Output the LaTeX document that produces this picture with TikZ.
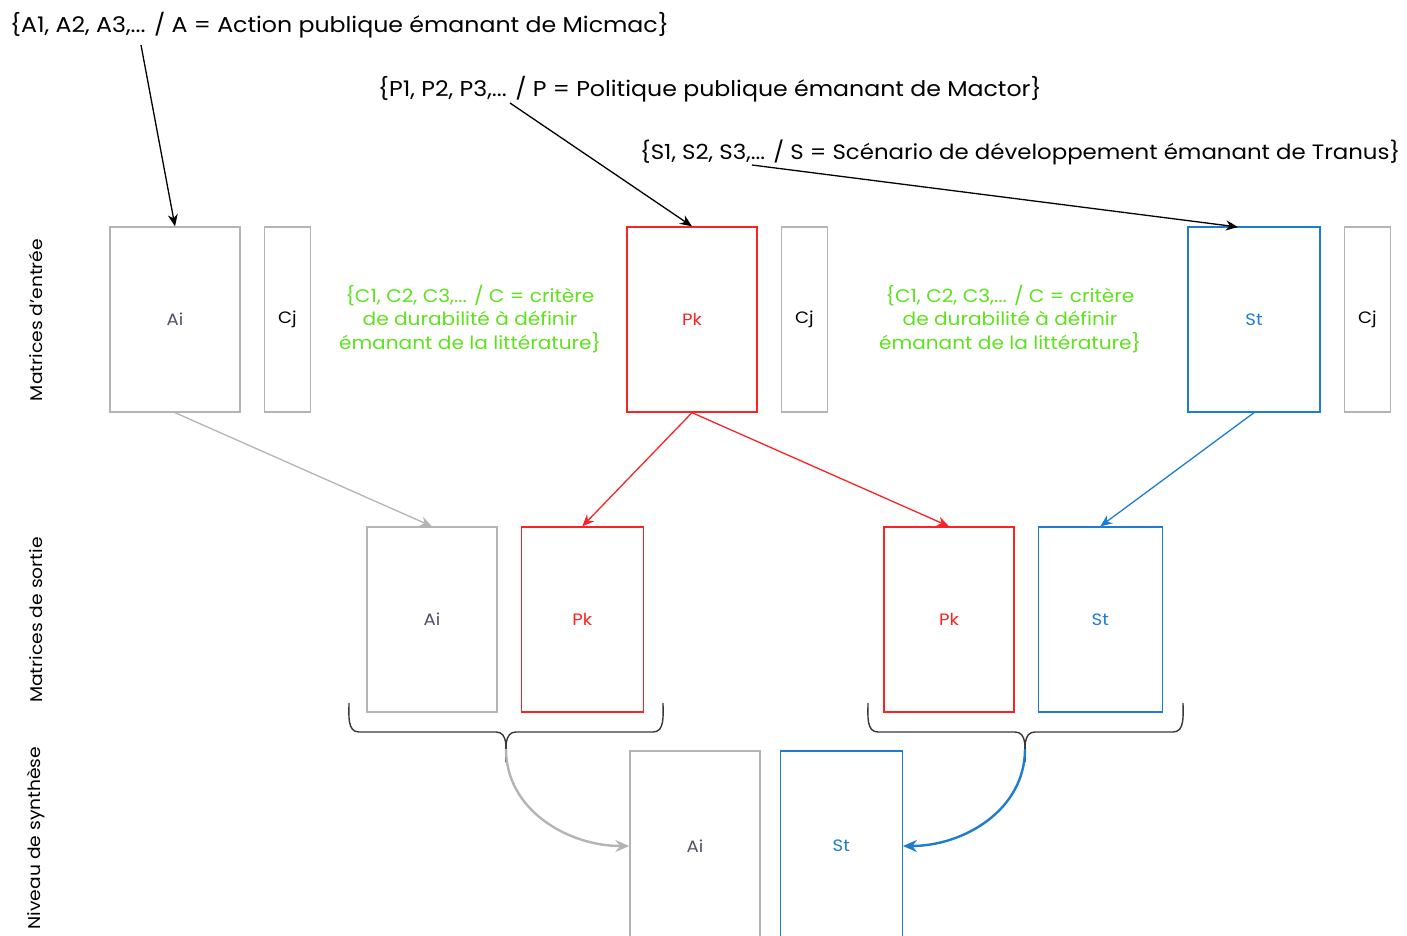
\documentclass[tikz,border=0pt]{standalone}
\usepackage{fontspec}
\setmainfont{Poppins}[FakeStretch=1.1]
\usetikzlibrary{arrows.meta,positioning}
\definecolor{boxgray}{RGB}{180,180,180}
\definecolor{polred}{RGB}{250,35,35}
\definecolor{scnblue}{RGB}{30,125,210}
\definecolor{critgreen}{RGB}{95,225,30}
\definecolor{bracegray}{RGB}{55,55,55}
\definecolor{labgray}{RGB}{85,80,100}

\begin{document}
\begin{tikzpicture}[x=1pt,y=-1pt,node distance=23pt,>={Stealth[length=12pt,width=10pt]},
  font=\fontsize{16.5}{20}\selectfont,
  mat/.style={draw,line width=1.3pt,minimum width=130pt,minimum height=185pt,inner sep=0pt},
  amat/.style={mat,draw=boxgray,text=labgray},
  pmat/.style={mat,draw=polred,text=polred},
  smat/.style={mat,draw=scnblue,text=scnblue},
  cmat/.style={mat,draw=boxgray,minimum width=46pt,text=black},
  toptext/.style={anchor=west,inner sep=0pt,font=\fontsize{21.5}{25}\selectfont},
  sidetext/.style={rotate=90,inner sep=0pt,font=\fontsize{17}{20}\selectfont},
  crittext/.style={align=center,text=critgreen,inner sep=0pt,font=\fontsize{18.3}{23.5}\selectfont},
  link/.style={->,line width=1.3pt},
  swoop/.style={->,line width=2.4pt,>={Stealth[length=14pt,width=12pt]}},
  bracket/.style={draw=bracegray,line width=1.4pt}]
  \useasboundingbox (0,0) rectangle (1407,935);

  % texts at the top
  \node[toptext] (tA) at (10,25) {\{A1, A2, A3,... / A = Action publique émanant de Micmac\}};
  \node[toptext] (tP) at (378,89) {\{P1, P2, P3,... / P = Politique publique émanant de Mactor\}};
  \node[toptext,font=\fontsize{20.8}{25}\selectfont] (tS) at (640,152) {\{S1, S2, S3,... / S = Scénario de développement émanant de Tranus\}};
  \coordinate (fA) at (141,45);
  \coordinate (fP) at (510,103);
  \coordinate (fS) at (752,165);

  % levels
  \node[sidetext] (lin) at (36,320) {Matrices d'entrée};
  \node[sidetext] (lout) at (36,620) {Matrices de sortie};
  \node[sidetext] (lsyn) at (36,838) {Niveau de synthèse};

  % input matrices
  \node[amat] (A1) at (175,319.5) {Ai};
  \node[cmat,right=of A1] (C1) {Cj};
  \node[pmat] (P1) at (692,319.5) {Pk};
  \node[cmat,right=of P1] (C2) {Cj};
  \node[smat,minimum width=132pt] (S1) at (1254,319.5) {St};
  \node[cmat,right=of S1] (C3) {Cj};
  \node[crittext] (g1) at (470,319) {\{C1, C2, C3,... / C = critère\\de durabilité à définir\\émanant de la littérature\}};
  \node[crittext] (g2) at (1010,319) {\{C1, C2, C3,... / C = critère\\de durabilité à définir\\émanant de la littérature\}};
  \coordinate (tipS) at (1238,227);

  % output matrices
  \node[amat] (A2) at (432,619.5) {Ai};
  \node[pmat,minimum width=122pt,right=of A2] (P2) {Pk};
  \node[pmat] (P3) at (949,619.5) {Pk};
  \node[smat,minimum width=124pt,right=of P3] (S2) {St};

  % synthesis
  \node[amat,minimum height=190pt] (A3) at (695,846) {Ai};
  \node[smat,minimum width=122pt,minimum height=190pt,right=19pt of A3] (S3) {St};

  % arrows
  \draw[link] (fA) -- (A1.north);
  \draw[link] (fP) -- (P1.north);
  \draw[link] (fS) -- (tipS);
  \draw[link,boxgray] (A1.south) -- (A2.north);
  \draw[link,polred] (P1.south) -- (P2.north);
  \draw[link,polred] (P1.south) -- (P3.north);
  \draw[link,scnblue] (S1.south) -- (S2.north);

  % braces
  \coordinate (bL) at (506,762);
  \coordinate (bR) at (1025,762);
  \draw[bracket] (349,703) to[out=-90,in=180] (359,732) -- (496,732) to[out=0,in=90] (bL);
  \draw[bracket] (663,703) to[out=-90,in=0] (653,732) -- (516,732) to[out=180,in=90] (bL);
  \draw[bracket] (868,703) to[out=-90,in=180] (878,732) -- (1015,732) to[out=0,in=90] (bR);
  \draw[bracket] (1183,703) to[out=-90,in=0] (1173,732) -- (1035,732) to[out=180,in=90] (bR);

  \draw[swoop,boxgray] ([yshift=13pt]bL) to[out=-90,in=180] (A3.west);
  \draw[swoop,scnblue] ([yshift=13pt]bR) to[out=-90,in=0] (S3.east);
\end{tikzpicture}
\end{document}
